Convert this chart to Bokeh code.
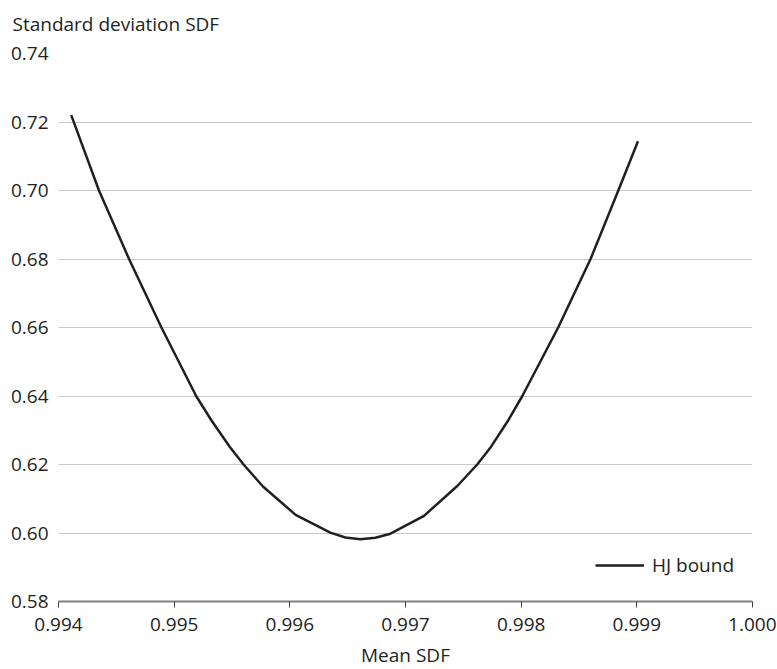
from bokeh.plotting import figure
from bokeh.models import Range1d, FixedTicker, NumeralTickFormatter, Legend, LegendItem, Title
from bokeh.embed import file_html
from bokeh.resources import INLINE

# Data (HJ bound)
mean_sdf = [0.99411, 0.99435, 0.99461, 0.99489, 0.99519, 0.99532, 0.99548, 0.99560,
            0.99577, 0.99605, 0.99635, 0.99648, 0.99661, 0.99674, 0.99687, 0.99716,
            0.99745, 0.99762, 0.99774, 0.99789, 0.99801, 0.99832, 0.99860, 0.99884, 0.99901]
std_sdf = [0.7220, 0.7000, 0.6800, 0.6600, 0.6400, 0.6330, 0.6252, 0.6200,
           0.6135, 0.6053, 0.6001, 0.5987, 0.5982, 0.5986, 0.5998, 0.6050,
           0.6138, 0.6200, 0.6252, 0.6330, 0.6400, 0.6600, 0.6800, 0.7000, 0.7144]

x_ticks = [0.994, 0.995, 0.996, 0.997, 0.998, 0.999, 1.000]
y_ticks = [0.58, 0.60, 0.62, 0.64, 0.66, 0.68, 0.70, 0.72, 0.74]

FONT = "Open Sans"
TXT = "#231f20"
FS = "19px"

p = figure(frame_width=694, frame_height=548, output_backend="svg", toolbar_location=None,
           title_location=None,
           x_range=Range1d(0.994, 1.000), y_range=Range1d(0.58, 0.74),
           min_border_left=58, min_border_right=24, min_border_top=52, min_border_bottom=60)
p.outline_line_color = None
p.background_fill_color = "white"
p.border_fill_color = "white"

# spacer between frame and title, then the title (stacked outward)
p.add_layout(Title(text=" ", text_font_size="6px", standoff=1), "above")
p.add_layout(Title(text="Standard deviation SDF", align="left", offset=-46, standoff=16,
                   text_font=FONT, text_font_size=FS, text_font_style="normal",
                   text_color=TXT), "above")

# axes
p.xaxis.ticker = FixedTicker(ticks=x_ticks)
p.yaxis.ticker = FixedTicker(ticks=y_ticks)
p.xaxis.formatter = NumeralTickFormatter(format="0.000")
p.yaxis.formatter = NumeralTickFormatter(format="0.00")
for ax in (p.xaxis, p.yaxis):
    ax.major_label_text_font = FONT
    ax.major_label_text_font_size = FS
    ax.major_label_text_color = TXT
    ax.minor_tick_line_color = None
    ax.axis_label_text_font = FONT
    ax.axis_label_text_font_size = FS
    ax.axis_label_text_color = TXT
    ax.axis_label_text_font_style = "normal"

p.xaxis.axis_line_color = "#808080"
p.xaxis.axis_line_width = 2
p.xaxis.major_tick_line_color = "#404040"
p.xaxis.major_tick_line_width = 1
p.xaxis.major_tick_out = 6
p.xaxis.major_tick_in = 0
p.xaxis.major_label_standoff = 10
p.xaxis.axis_label = "Mean SDF"
p.xaxis.axis_label_standoff = 8

p.yaxis.axis_line_color = None
p.yaxis.major_tick_line_color = None
p.yaxis.major_tick_out = 0
p.yaxis.major_tick_in = 0
p.yaxis.major_label_standoff = 10

p.xgrid.grid_line_color = None
p.ygrid.grid_line_color = "#c8c8c8"
p.ygrid.grid_line_width = 1

r = p.line(mean_sdf, std_sdf, line_color=TXT, line_width=2.5, line_join="round")

legend = Legend(items=[LegendItem(label="HJ bound", renderers=[r])],
                location=(537, 23), border_line_color=None, background_fill_alpha=0,
                padding=0, margin=0, glyph_width=49, glyph_height=20, label_standoff=8,
                label_text_font=FONT, label_text_font_size=FS, label_text_color=TXT)
p.add_layout(legend, "center")

open("out.html", "w").write(file_html(p, INLINE))
